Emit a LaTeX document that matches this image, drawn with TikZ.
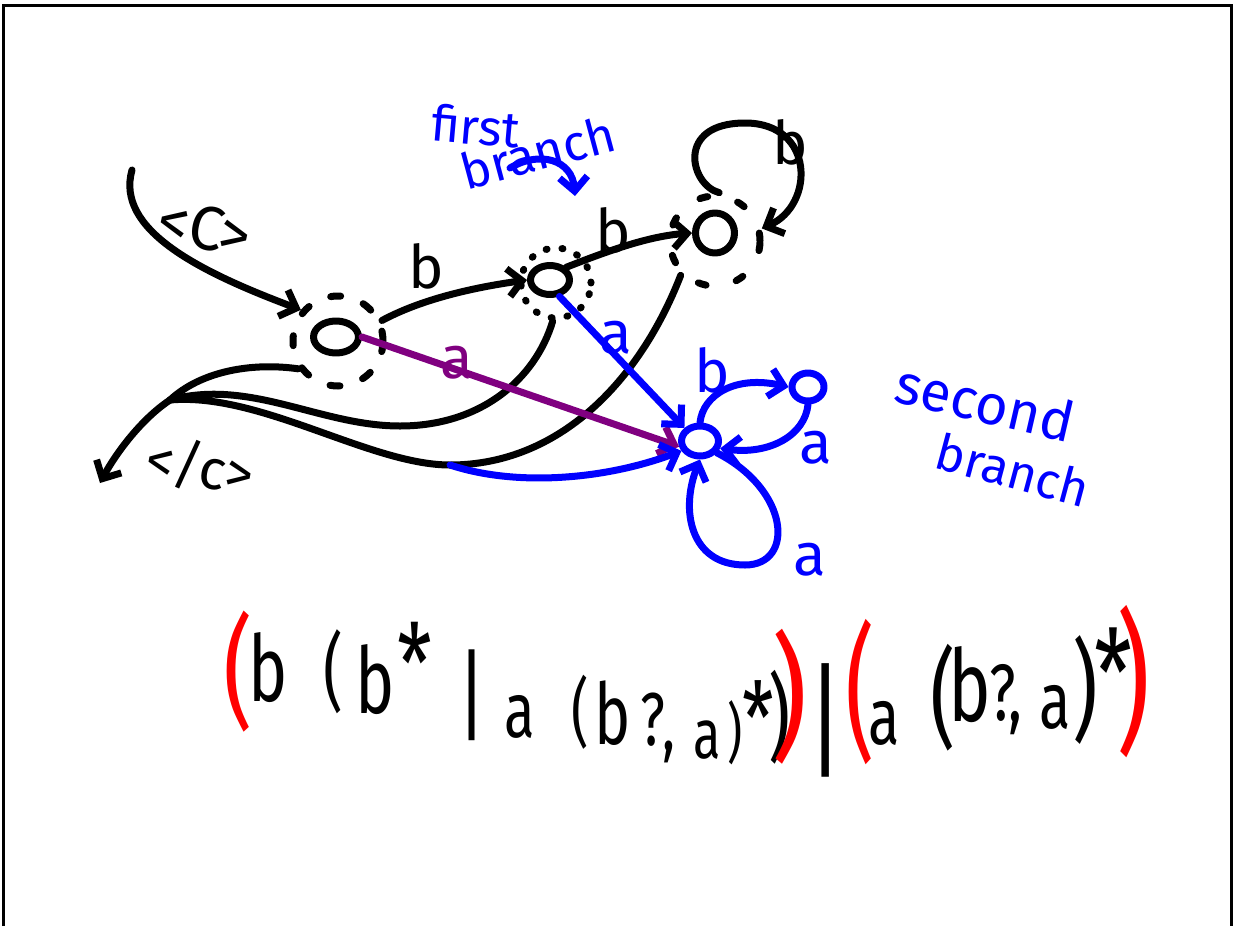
\documentclass[tikz,border=0pt]{standalone}
\usepackage{graphicx}
\usepackage{fontspec}
\setmainfont{Fira Sans}
\newfontfamily\handfont[FakeStretch=0.72]{Fira Sans}
\usepackage{tikz}
\usetikzlibrary{arrows.meta, shapes.geometric}

\definecolor{penblue}{RGB}{0,0,255}
\definecolor{penpurple}{RGB}{128,0,128}
\definecolor{penred}{RGB}{255,0,0}

\begin{document}
\begin{tikzpicture}[
  x=1pt, y=-1pt,
  pen/.style={line width=7pt, line cap=round, line join=round},
  state/.style={ellipse, draw, pen, inner sep=0pt},
  ring/.style={circle, draw, pen, inner sep=0pt, minimum size=#1},
  lbl/.style={inner sep=0pt, font=\fontsize{50}{50}\selectfont},
  sym/.style={inner sep=0pt, font=\fontsize{60}{60}\selectfont},
  >={Straight Barb[length=14pt, width=28pt]}
]
  \useasboundingbox (0,0) rectangle (1236,926);
  \draw[line width=3pt] (3,926) -- (3,5) -- (1231,5) -- (1231,926);

  \node[state, minimum width=45pt, minimum height=32pt] (q0) at (336,337) {};
  \node[ring=90pt, dash pattern=on 10pt off 24pt] (q0ring) at (338,341) {};
  \node[state, minimum width=39pt, minimum height=29pt] (q1) at (550,280) {};
  \node[ring=70pt, dash pattern=on 1pt off 15pt] (q1ring) at (556,283) {};
  \node[state, minimum width=39pt, minimum height=40pt] (q2) at (715,233) {};
  \node[ring=90pt, dash pattern=on 8pt off 31pt] (q2ring) at (715,241) {};
  \node[state, penblue, minimum width=37pt, minimum height=30pt] (q3) at (700,441) {};
  \node[state, penblue, minimum width=32pt, minimum height=28pt] (q4) at (808,387) {};

  \coordinate (start) at (132,170);
  \coordinate (exit) at (170,400);
  \coordinate (end) at (100,483);
  \coordinate (dip) at (450,465);
  \coordinate (fbfrom) at (510,168);
  \coordinate (fbto) at (575,196);

  \node[lbl, font=\fontsize{62}{62}\selectfont, rotate=-12] (open) at (205,228) {<C>};
  \node[lbl, font=\fontsize{56}{56}\selectfont, rotate=-10] (close) at (200,467) {</c>};
  \node[sym] (b01) at (426,266) {b};
  \node[sym] (b12) at (613,230) {b};
  \node[sym] (b22) at (790,142) {b};
  \node[sym, text=penpurple] (a03) at (457,363) {a};
  \node[sym, text=penblue] (a13) at (616,338) {a};
  \node[sym, text=penblue] (b34) at (712,370) {b};
  \node[sym, text=penblue] (a43) at (816,448) {a};
  \node[sym, text=penblue] (a33) at (810,560) {a};
  \node[lbl, text=penblue, rotate=-5] (first) at (476,126) {first};
  \node[lbl, text=penblue, rotate=15] (branchA) at (538,152) {branch};
  \node[lbl, text=penblue, font=\fontsize{56}{56}\selectfont, rotate=-13] (second) at (985,402) {second};
  \node[lbl, text=penblue, rotate=-15] (branchB) at (1013,470) {branch};

  \draw[pen, ->] (start) .. controls (115,230) and (200,272) .. (q0ring.140);
  \draw[pen, ->] (q0ring.25) .. controls (420,300) and (470,288) .. (q1.west);
  \draw[pen, ->] (q1.north east) .. controls (610,250) and (650,236) .. (q2.west);
  \draw[pen, ->] (q2ring.85) .. controls (690,185) and (675,123) .. (745,123)
    .. controls (815,123) and (815,205) .. (q2ring.15);
  \draw[pen] (q0ring.215) .. controls (250,362) and (200,372) .. (exit);
  \draw[pen] (q1ring.265) .. controls (535,380) and (480,426) .. (400,426)
    .. controls (320,426) and (250,378) .. (exit);
  \draw[pen] (q2ring.225) .. controls (640,380) and (560,465) .. (dip)
    .. controls (370,465) and (260,392) .. (exit);
  \draw[pen, ->] (exit) .. controls (140,420) and (115,455) .. (end);

  \draw[pen, penpurple, ->] (q0.east) -- (q3.195);
  \draw[pen, penblue, ->] (q1.-60) -- (q3.north west);
  \draw[pen, penblue, ->] (dip) .. controls (520,488) and (610,478) .. (q3.208);
  \draw[pen, penblue, ->] (q3.north) .. controls (703,395) and (735,375) .. (q4.west);
  \draw[pen, penblue, ->] (q4.south) .. controls (805,435) and (770,455) .. (q3.-20);
  \draw[pen, penblue, ->] (q3.-35) .. controls (790,490) and (795,565) .. (745,565)
    .. controls (690,565) and (680,510) .. (q3.south);
  \draw[pen, penblue, ->] (fbfrom) .. controls (540,150) and (572,160) .. (fbto);

  \foreach \px/\py/\s/\t [count=\i] in {
      268/668/92/b, 333/672/85/(, 375/680/92/b, 415/663/110/*,
      472/695/100/|, 520/717/78/a, 580/712/75/(, 613/713/85/b,
      653/720/75/?, 669/752/75/{,}, 707/740/70/a, 735/733/65/),
      758/718/100/*, 780/717/95/), 826/720/125/|, 884/723/80/a,
      943/698/108/(, 970/685/100/b, 1003/693/80/?, 1015/723/80/{,},
      1055/707/80/a, 1085/690/110/), 1113/672/120/*}
    \node[inner sep=0pt, font=\handfont\fontsize{\s}{\s}\selectfont] (tok\i) at (\px,\py) {\t};

  \foreach \px/\py/\sx/\sy/\t [count=\i] in {
      238/672/1.3/1.75/(, 790/697/1.6/1.95/), 860/692/1.3/2.1/(, 1133/682/1.5/2.2/)}
    \node[inner sep=0pt, text=penred, font=\fontsize{70}{70}\selectfont] (par\i) at (\px,\py) {\scalebox{\sx}[\sy]{\t}};
\end{tikzpicture}
\end{document}
